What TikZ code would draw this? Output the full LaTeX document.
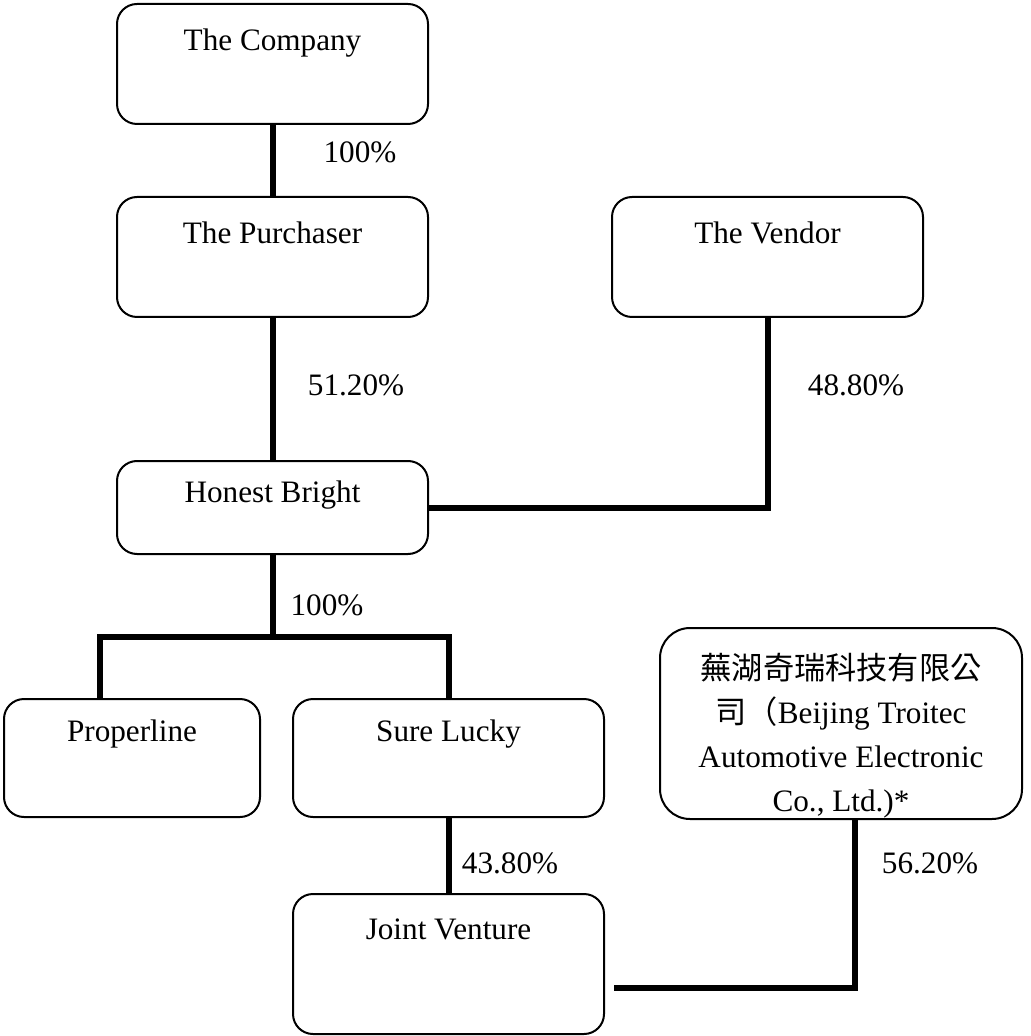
\documentclass[tikz,border=0pt]{standalone}
\usepackage{fontspec}
\setmainfont{Liberation Serif}
\newfontfamily\cjk{Noto Sans CJK TC}
\usetikzlibrary{positioning}
\tikzset{
  entity/.style = {
    draw, line width=1pt, rounded corners=10pt, anchor=north,
    inner sep=0pt, font=\fontsize{15.6}{22}\selectfont
  },
  link/.style = {line width=3pt},
  share/.style = {inner sep=0pt, font=\fontsize{15.6}{22}\selectfont}
}

\begin{document}
\begin{tikzpicture}[x=0.5pt, y=-0.5pt]

    \useasboundingbox (0,0) rectangle (1030,1036);

    %% Shareholding structure

    % Entities
    \node[entity, minimum width=155.5pt, text height=23.5pt, text depth=36.5pt] (company) at (272.5,3) {The Company};
    \node[entity, minimum width=155.5pt, text height=23.5pt, text depth=36.5pt] (purchaser) at (272.5,196) {The Purchaser};
    \node[entity, minimum width=155.5pt, text height=23.5pt, text depth=36.5pt] (vendor) at (767.5,196) {The Vendor};
    \node[entity, minimum width=155.5pt, text height=20.5pt, text depth=26pt] (hb) at (272.5,460) {Honest Bright};
    \node[entity, minimum width=128pt, text height=21pt, text depth=38pt] (properline) at (132,698) {Properline};
    \node[entity, minimum width=155.5pt, text height=21pt, text depth=38pt] (surelucky) at (448.5,698) {Sure Lucky};
    \node[entity, minimum width=181pt, minimum height=95.5pt, align=center, rounded corners=15pt] (chq) at (841,627)
      {\rule{0pt}{25pt}{\cjk 蕪湖奇瑞科技有限公}\\{\cjk 司（}Beijing Troitec\\Automotive Electronic\\Co., Ltd.)*};
    \node[entity, minimum width=155.5pt, text height=22.5pt, text depth=47.5pt] (jv) at (448.5,893) {Joint Venture};

    % Free ends
    \coordinate (fork) at (272.5,637);
    \coordinate (pl-in) at (100,698);
    \coordinate (jv-in) at (614,988);
    \coordinate (chq-tap) at (855,818);

    % Connectors
    \draw[link] (company.south) -- (purchaser.north);
    \draw[link] (purchaser.south) -- (hb.north);
    \draw[link] (vendor.south) |- (hb.east);
    \draw[link] (hb.south) -- (fork);
    \draw[link] (pl-in) |- (fork) -| (surelucky.north);
    \draw[link] (surelucky.south) -- (jv.north);
    \draw[link] (jv-in) -| (chq-tap);

    % Percentages
    \node[share] (pct-company) at (360,152) {100\%};
    \node[share] (pct-purchaser) at (356,385) {51.20\%};
    \node[share] (pct-vendor) at (856,385) {48.80\%};
    \node[share] (pct-hb) at (327,605) {100\%};
    \node[share] (pct-sl) at (510,863) {43.80\%};
    \node[share] (pct-chq) at (930,863) {56.20\%};

\end{tikzpicture}
\end{document}
